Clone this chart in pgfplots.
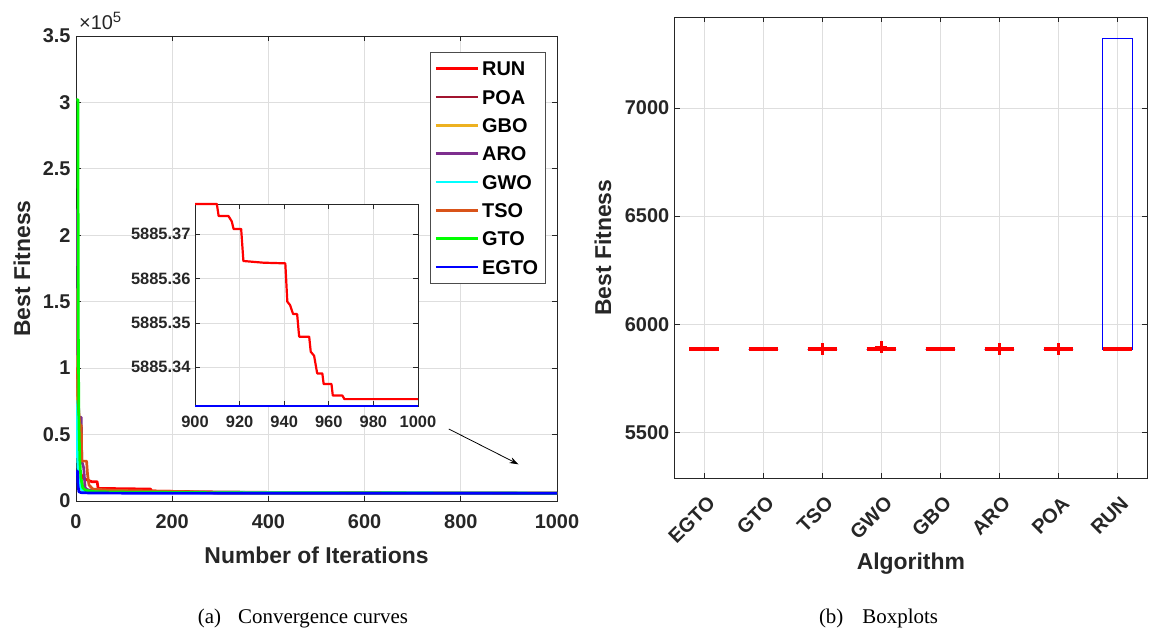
\documentclass[border=0pt]{standalone}
\usepackage{fontspec}
\setmainfont{Liberation Sans}
\newfontfamily\seriffont{Liberation Serif}
\usepackage{pgfplots}
\pgfplotsset{compat=1.18}
\usepgfplotslibrary{statistics}
\usetikzlibrary{arrows.meta}

\definecolor{cRUN}{RGB}{255,0,0}
\definecolor{cPOA}{RGB}{162,20,47}
\definecolor{cGBO}{RGB}{237,177,32}
\definecolor{cARO}{RGB}{126,47,142}
\definecolor{cGWO}{RGB}{0,255,255}
\definecolor{cTSO}{RGB}{217,83,25}
\definecolor{cGTO}{RGB}{0,255,0}
\definecolor{cEGTO}{RGB}{0,0,255}
\definecolor{gridc}{RGB}{222,222,222}
\definecolor{axc}{RGB}{38,38,38}

\newcommand{\fs}[1]{\fontsize{#1}{#1}\selectfont\bfseries}

\pgfplotsset{
  matstyle/.style={
    scale only axis,
    axis line style={axc, line width=0.8bp},
    tick style={axc, line width=0.8bp},
    major tick length=5bp,
    tick align=inside,
    grid=major,
    major grid style={gridc, line width=0.8bp},
    /pgf/number format/assume math mode=true,
    /pgf/number format/1000 sep={},
    ticklabel style={font=\fs{20}, text=axc},
  },
  curve/.style={line width=2.7bp, line join=round},
}

\begin{document}
\begin{tikzpicture}
\path[use as bounding box] (0bp,0bp) rectangle (1152bp,631bp);

% ---------------- (a) convergence curves ----------------
\begin{axis}[matstyle,
  at={(76bp,130bp)}, anchor=south west, width=481bp, height=465bp,
  clip mode=individual,
  xmin=0, xmax=1000, ymin=0, ymax=350000,
  xtick={0,200,400,600,800,1000},
  ytick={0,50000,100000,150000,200000,250000,300000,350000},
  yticklabels={0,0.5,1,1.5,2,2.5,3,3.5},
  scaled y ticks=false,
  xticklabel style={yshift=-10bp},
  yticklabel style={xshift=-2bp},
  xlabel={Number of Iterations}, ylabel={Best Fitness},
  every axis x label/.style={at={(axis description cs:0.5,-0.1172)}, anchor=center, font=\fs{23}, text=axc},
  every axis y label/.style={at={(axis description cs:-0.1123,0.5)}, anchor=center, rotate=90, font=\fs{23}, text=axc},
  legend style={at={(0.736,0.9656)}, anchor=north west, draw=black!70, line width=0.8bp,
    font=\fs{20}, inner xsep=4bp, inner ysep=6bp, row sep=7.84bp,
    nodes={inner sep=3bp, text height=14.5bp, text depth=0bp}},
  legend cell align=left,
  legend image code/.code={\draw[#1, line width=2.7bp] (0bp,0bp) -- (42bp,0bp);},
]
\addplot[curve, cRUN] coordinates {(1,120000)(2,60000)(4,35000)(8,22000)(15,17000)(33,14500)(44,14500)(46,9500)(155,9000)(157,7500)(250,7000)(400,6500)(600,6000)(900,5885.377)(1000,5885.333)};
\addlegendentry{RUN}
\addplot[curve, cPOA] coordinates {(1,140000)(2,80000)(4,40000)(8,20000)(15,9000)(40,7500)(150,7000)(300,6000)(1000,5886)};
\addlegendentry{POA}
\addplot[curve, cGBO] coordinates {(1,160000)(2,90000)(4,35000)(7,15000)(12,8000)(40,7000)(120,6500)(1000,5886)};
\addlegendentry{GBO}
\addplot[curve, cARO] coordinates {(1,219000)(3,219000)(4,90000)(6,63000)(11,63000)(12,30000)(16,25000)(19,10000)(25,8000)(60,7000)(150,6500)(1000,5886)};
\addlegendentry{ARO}
\addplot[curve, cGWO] coordinates {(1,75000)(2,75000)(3,35000)(5,20000)(8,10000)(15,7500)(50,6800)(1000,5886)};
\addlegendentry{GWO}
\addplot[curve, cTSO] coordinates {(1,100000)(3,100000)(4,75000)(8,57000)(11,57000)(12,30000)(22,30000)(24,20000)(27,12000)(35,9000)(80,8000)(160,7500)(237,7000)(300,6000)(1000,5886)};
\addlegendentry{TSO}
\addplot[curve, cGTO] coordinates {(1,302000)(4,302000)(5,120000)(6,60000)(8,30000)(10,18000)(14,10000)(20,8000)(40,7000)(100,6700)(240,6400)(400,6000)(1000,5886)};
\addlegendentry{GTO}
\addplot[curve, cEGTO] coordinates {(1,22600)(3,22600)(4,12000)(6,7000)(10,6300)(30,6000)(100,5900)(1000,5885.33)};
\addlegendentry{EGTO}
\draw[-{Stealth[length=9bp,width=6bp]}, line width=0.8bp, black] (axis cs:775,54200) -- (axis cs:920,27600);
\node[anchor=south west, font=\fontsize{20}{20}\selectfont, text=axc, inner sep=0pt] at (axis description cs:0,1) [yshift=6bp, xshift=3bp] {×10\textsuperscript{\fontsize{15}{15}\selectfont 5}};
\end{axis}

% ---------------- inset (values as (fitness - 5885.3) x 1000) ----------------
\begin{axis}[matstyle,
  at={(195bp,225bp)}, anchor=south west, width=223bp, height=202bp,
  axis background/.style={fill=white},
  clip=false,
  xmin=900, xmax=1000, ymin=31.25, ymax=76.85,
  xtick={900,920,940,960,980,1000},
  ytick={40,50,60,70},
  yticklabels={5885.34,5885.35,5885.36,5885.37},
  ticklabel style={font=\fs{16.5}},
  xticklabel style={yshift=-7bp},
  yticklabel style={xshift=-1bp},
]
\addplot[line width=2.2bp, cRUN, line join=round] coordinates {(900,76.85)(909.8,76.85)(910.6,74.14)(915,74.14)(916.5,72.9)(917.3,71.2)(920.7,71.2)(921.7,63.98)(930.7,63.6)(940.5,63.45)(941.4,54.8)(942.6,54.05)(944,52.0)(945.8,52.0)(946.7,46.9)(951.2,46.9)(951.9,43.5)(953.4,42.6)(954.8,38.6)(957.1,38.6)(957.7,36.2)(961.2,36.2)(961.8,33.6)(966.1,33.6)(967,32.8)(1000,32.8)};
\addplot[line width=2.8bp, cEGTO] coordinates {(900,31.25)(1000,31.25)};
\end{axis}

% ---------------- (b) boxplots ----------------
\begin{axis}[matstyle,
  at={(674.7bp,153bp)}, anchor=south west, width=472.3bp, height=460.7bp,
  xmin=0.5, xmax=8.5, ymin=5289, ymax=7419,
  xtick={1,2,3,4,5,6,7,8},
  xticklabels={EGTO,GTO,TSO,GWO,GBO,ARO,POA,RUN},
  ytick={5500,6000,6500,7000},
  xticklabel style={rotate=45, anchor=east, inner sep=0pt, xshift=-10.3bp, yshift=-20.8bp},
  yticklabel style={xshift=-2bp},
  xlabel={Algorithm}, ylabel={Best Fitness},
  every axis x label/.style={at={(axis description cs:0.5,-0.1867)}, anchor=center, font=\fs{23}, text=axc},
  every axis y label/.style={at={(axis description cs:-0.1518,0.5)}, anchor=center, rotate=90, font=\fs{23}, text=axc},
  boxplot/draw direction=y,
  boxplot/box extend=0.5,
  boxplot/whisker extend=0,
  boxplot/every whisker/.style={draw=none},
  boxplot/every median/.style={cRUN, line width=3.5bp},
  boxst/.style={cEGTO, line width=0.8bp, mark=+, mark size=6bp,
    mark options={cRUN, solid, line width=3bp}},
]
\addplot[boxst, boxplot prepared={draw position=1, lower whisker=5885.33, lower quartile=5885.33, median=5885.33, upper quartile=5885.33, upper whisker=5885.33}] coordinates {};
\addplot[boxst, boxplot prepared={draw position=2, lower whisker=5885.33, lower quartile=5885.33, median=5885.33, upper quartile=5885.33, upper whisker=5885.33}] coordinates {};
\addplot[boxst, boxplot prepared={draw position=3, lower whisker=5885.33, lower quartile=5885.33, median=5885.33, upper quartile=5885.33, upper whisker=5885.33}] table[row sep=\\, y index=0, header=false] {5885.4\\};
\addplot[boxst, boxplot prepared={draw position=4, lower whisker=5885.33, lower quartile=5885.33, median=5885.33, upper quartile=5885.33, upper whisker=5885.33}] table[row sep=\\, y index=0, header=false] {5893\\};
\addplot[boxst, boxplot prepared={draw position=5, lower whisker=5885.33, lower quartile=5885.33, median=5885.33, upper quartile=5885.33, upper whisker=5885.33}] coordinates {};
\addplot[boxst, boxplot prepared={draw position=6, lower whisker=5885.33, lower quartile=5885.33, median=5885.33, upper quartile=5885.33, upper whisker=5885.33}] table[row sep=\\, y index=0, header=false] {5885.4\\};
\addplot[boxst, boxplot prepared={draw position=7, lower whisker=5885.33, lower quartile=5885.33, median=5885.33, upper quartile=5885.33, upper whisker=5885.33}] table[row sep=\\, y index=0, header=false] {5885.4\\};
\addplot[boxst, boxplot prepared={draw position=8, lower whisker=5885.33, lower quartile=5885.33, median=5885.33, upper quartile=7320, upper whisker=7320}] coordinates {};
\end{axis}

% ---------------- captions ----------------
\node[font=\seriffont\fontsize{21}{21}\selectfont, inner sep=0pt] at (303bp,13bp) {(a)\hspace{17bp}Convergence curves};
\node[font=\seriffont\fontsize{21}{21}\selectfont, inner sep=0pt] at (878.5bp,13bp) {(b)\hspace{19bp}Boxplots};
\end{tikzpicture}
\end{document}
